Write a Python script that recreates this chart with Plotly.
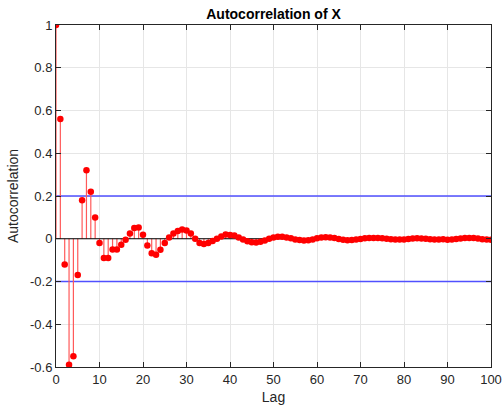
import plotly.graph_objects as go

lags = list(range(0, 101))
acf = [
    1.0, 0.56, -0.12, -0.59, -0.55, -0.17, 0.18, 0.32, 0.22, 0.10,
    -0.02, -0.09, -0.09, -0.05, -0.05, -0.028, -0.005, 0.024, 0.05, 0.053,
    0.019, -0.031, -0.068, -0.075, -0.052, -0.02, 0.006, 0.024, 0.036, 0.043,
    0.039, 0.024, 0.0, -0.02, -0.025, -0.02, -0.011, 0.0, 0.011, 0.02,
    0.018, 0.015, 0.006, -0.003, -0.012, -0.016, -0.017, -0.014, -0.008, 0.0,
    0.006, 0.009, 0.009, 0.006, 0.002, -0.003, -0.006, -0.008, -0.007, -0.003,
    0.002, 0.006, 0.007, 0.006, 0.003, -0.001, -0.005, -0.007, -0.006, -0.004,
    -0.001, 0.002, 0.004, 0.004, 0.003, 0.002, 0.0, -0.002, -0.004, -0.004,
    -0.003, -0.001, 0.001, 0.002, 0.001, 0.0, -0.002, -0.003, -0.003, -0.002,
    -0.005, -0.003, -0.001, 0.001, 0.003, 0.004, 0.003, 0.001, -0.002, -0.004,
    -0.005,
]
bound = 0.2
xticks = list(range(0, 101, 10))
yticks = [-0.6, -0.4, -0.2, 0, 0.2, 0.4, 0.6, 0.8, 1]
yticklabels = ["-0.6", "-0.4", "-0.2", "0", "0.2", "0.4", "0.6", "0.8", "1"]

stem_x, stem_y = [], []
for l, v in zip(lags, acf):
    stem_x += [l, l, None]
    stem_y += [0, v, None]

axcol = "#262626"
fig = go.Figure()
fig.add_trace(go.Scatter(x=[lags[0], lags[-1]], y=[bound, bound], mode="lines",
                         line=dict(color="#5050ff", width=1.4), hoverinfo="skip"))
fig.add_trace(go.Scatter(x=[lags[0], lags[-1]], y=[-bound, -bound], mode="lines",
                         line=dict(color="#5050ff", width=1.4), hoverinfo="skip"))
fig.add_trace(go.Scatter(x=stem_x, y=stem_y, mode="lines",
                         line=dict(color="#ff5a5a", width=1.2), hoverinfo="skip"))
fig.add_trace(go.Scatter(x=[lags[0], lags[-1]], y=[0, 0], mode="lines",
                         line=dict(color="#000000", width=1), hoverinfo="skip"))
fig.add_trace(go.Scatter(x=lags, y=acf, mode="markers",
                         marker=dict(color="#ff0000", size=6.5, line=dict(width=0))))

fig.update_layout(
    width=503, height=415,
    margin=dict(l=56, r=12, t=25, b=48),
    paper_bgcolor="white", plot_bgcolor="white",
    showlegend=False,
    font=dict(family="Liberation Sans, Arial, sans-serif", color=axcol, size=13),
    title=dict(text="<b>Autocorrelation of X</b>", x=(56 + 491) / 2 / 503, xanchor="center",
               y=1 - 14 / 415, yanchor="middle", font=dict(size=14, color="#000000")),
)
fig.update_xaxes(range=[0, 100], tickvals=xticks, ticks="inside", ticklen=5,
                 tickcolor=axcol, showline=True, linecolor=axcol, linewidth=1,
                 mirror="ticks", showgrid=True, gridcolor="#e6e6e6", zeroline=False,
                 automargin=False,
                 title=dict(text="Lag", font=dict(size=14), standoff=6))
fig.update_yaxes(range=[-0.6, 1], tickvals=yticks, ticktext=yticklabels, ticks="inside",
                 ticklen=5, tickcolor=axcol, showline=True, linecolor=axcol, linewidth=1,
                 mirror="ticks", showgrid=True, gridcolor="#e6e6e6", zeroline=False,
                 automargin=False,
                 title=dict(text="Autocorrelation", font=dict(size=14), standoff=8))

fig.write_html("out.html")
